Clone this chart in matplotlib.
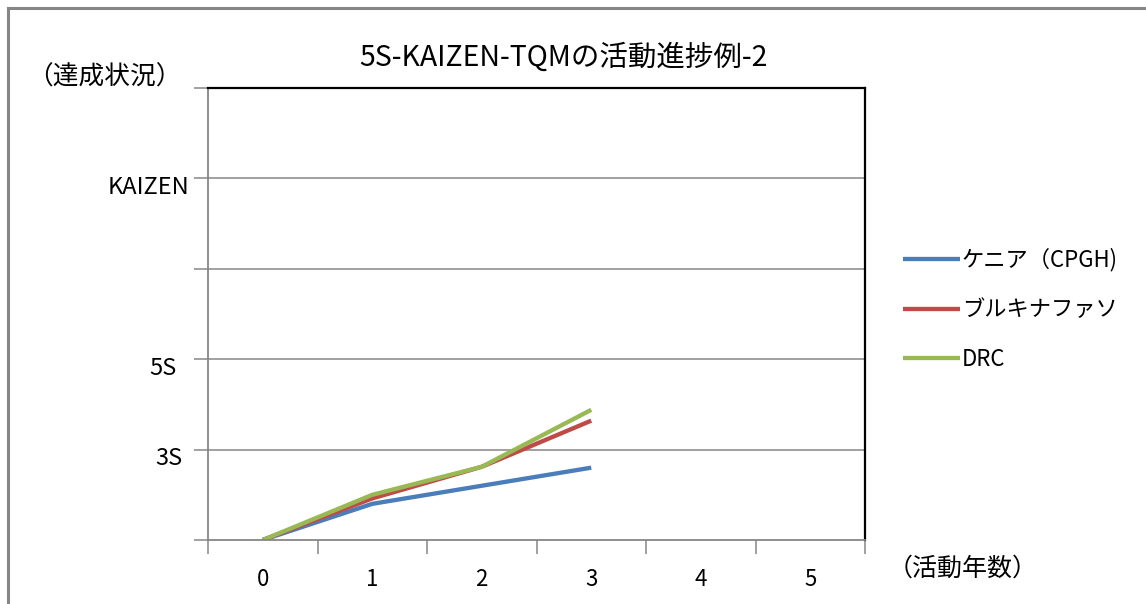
import matplotlib
matplotlib.use("Agg")
import matplotlib.pyplot as plt
from matplotlib.lines import Line2D

plt.rcParams['font.family'] = ['Noto Sans CJK JP', 'DejaVu Sans']

# Activity years (category axis) and progress level per country
years = ["0", "1", "2", "3", "4", "5"]
kenya = [0, 0.4, 0.6, 0.8]
burkina = [0, 0.46, 0.81, 1.32]
drc = [0, 0.5, 0.81, 1.44]
series_names = ["ケニア（CPGH)", "ブルキナファソ", "DRC"]
level_values = [1, 2, 4]
level_labels = ["3S", "5S", "KAIZEN"]

title = "5S-KAIZEN-TQMの活動進捗例-2"
y_title = "（達成状況）"
x_title = "（活動年数）"

colors = ["#4A7EBB", "#BE4B48", "#98B954"]
axis_gray = "#868686"

W, H = 1146, 604
fig = plt.figure(figsize=(W / 100, H / 100), dpi=100)

# outer chart frame (left and top edges visible)
fig.add_artist(Line2D([8 / W, 8 / W], [0, 1 - 8 / H], color=axis_gray, lw=2.2))
fig.add_artist(Line2D([8 / W, 1], [1 - 8 / H, 1 - 8 / H], color=axis_gray, lw=2.2))

left, right, top, bottom = 208, 865, 88, 540
ax = fig.add_axes([left / W, 1 - bottom / H, (right - left) / W, (bottom - top) / H])

ax.set_xlim(-0.5, len(years) - 0.5)
ax.set_ylim(0, 5)

xs = range(len(kenya))
for vals, c, name in zip([kenya, burkina, drc], colors, series_names):
    ax.plot(list(xs), vals, color=c, lw=3.1, solid_capstyle='butt', label=name)

# horizontal gridlines
for y in range(1, 5):
    ax.axhline(y, color=axis_gray, lw=1.1, zorder=0)

for s in ["top", "right"]:
    ax.spines[s].set_color("black")
    ax.spines[s].set_linewidth(1.6)
for s in ["left", "bottom"]:
    ax.spines[s].set_color(axis_gray)
    ax.spines[s].set_linewidth(1.3)

ax.set_yticks(range(0, 6))
ax.set_yticklabels([])
ax.tick_params(axis='y', length=10, width=1.1, color=axis_gray)

ax.set_xticks([i - 0.5 for i in range(len(years) + 1)])
ax.set_xticklabels([])
ax.set_xticks(range(len(years)), minor=True)
ax.set_xticklabels(years, minor=True, fontsize=16)
ax.tick_params(axis='x', which='major', length=10, width=1.1, color=axis_gray)
ax.tick_params(axis='x', which='minor', length=0, pad=20)

# y-axis level labels
label_x = {"3S": 182, "5S": 177, "KAIZEN": 189}
for v, lab in zip(level_values, level_labels):
    ypix = bottom - v * (bottom - top) / 5 + 9
    fig.text(label_x[lab] / W, 1 - ypix / H, lab, ha='right', va='center', fontsize=17)

fig.text(563 / W, 1 - 58 / H, title, ha='center', va='center', fontsize=20.5)
fig.text(104 / W, 1 - 78 / H, y_title, ha='center', va='center', fontsize=18.5)
fig.text(963 / W, 1 - 569 / H, x_title, ha='center', va='center', fontsize=18)

leg = fig.legend(loc='upper left', bbox_to_anchor=(903 / W, 1 - 248 / H), frameon=False,
                 fontsize=16, handlelength=2.55, handletextpad=0.1, labelspacing=1.2,
                 borderpad=0, borderaxespad=0)

fig.savefig("out.png", dpi=100, facecolor="white")
